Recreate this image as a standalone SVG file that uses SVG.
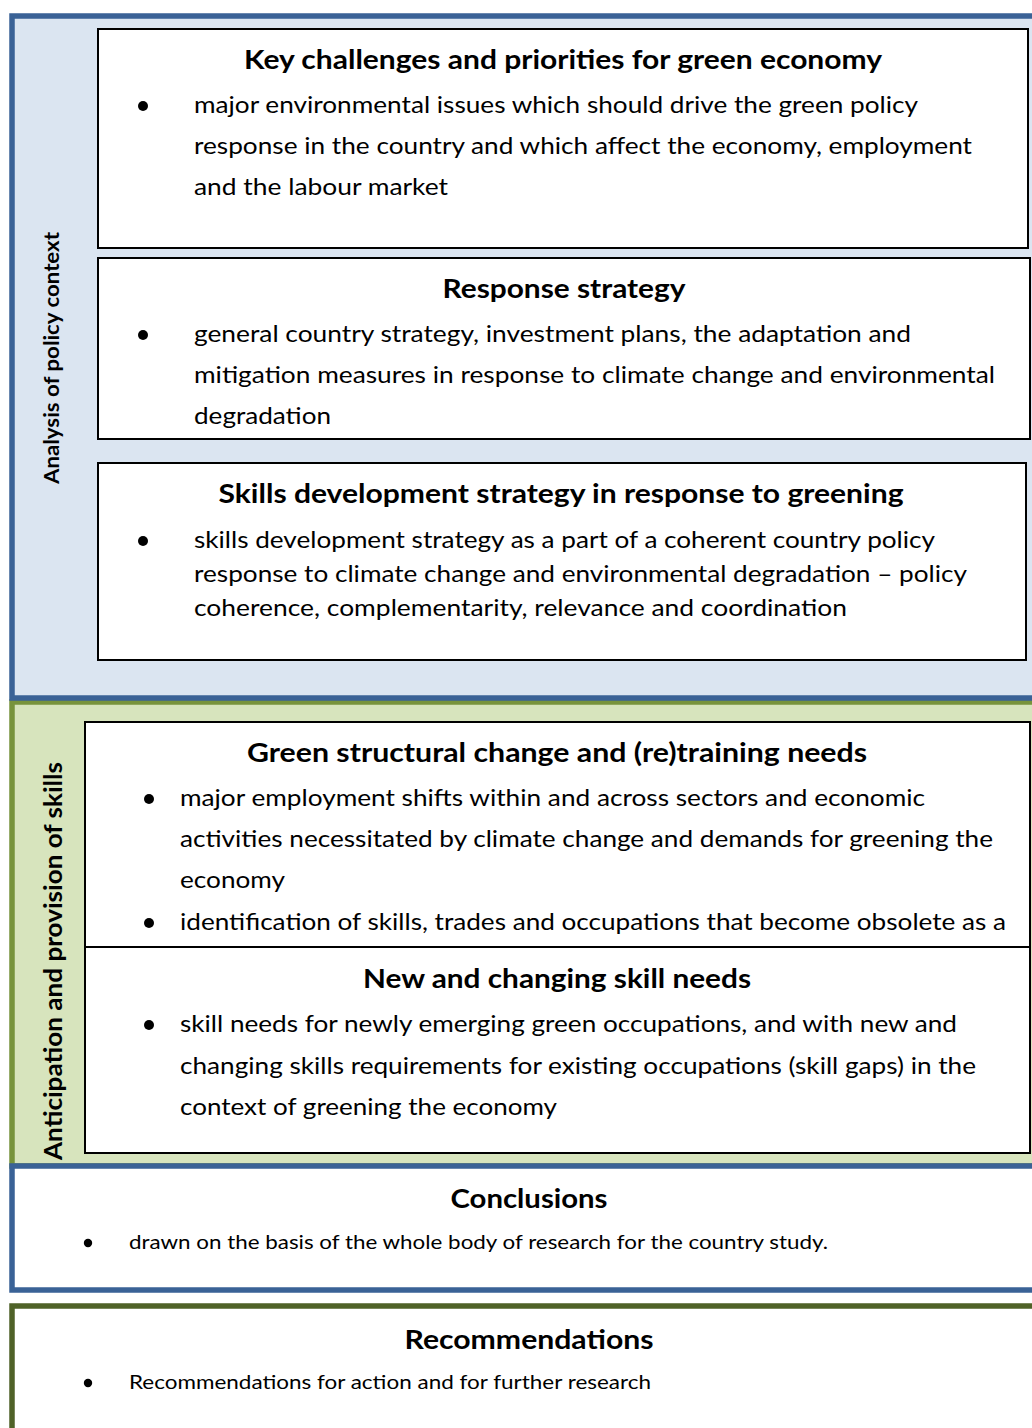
<svg xmlns="http://www.w3.org/2000/svg" width="1032" height="1428" viewBox="0 0 1032 1428">
<style>
  text { font-family: Lato, "Open Sans", sans-serif; fill: #000; }
  .ttl { font-size: 27px; font-weight: bold; text-anchor: middle; }
  .body { font-size: 24px; }
  .small { font-size: 20px; }
  .side { font-weight: bold; text-anchor: middle; }
  .box { fill: #fff; stroke: #000; stroke-width: 2; }
  .pblue { fill: #DBE5F1; stroke: #3A6296; stroke-width: 5.5; }
  .pgreen { fill: #D7E4BD; stroke: #77933C; stroke-width: 5.5; }
  .pconc { fill: #fff; stroke: #3A6296; stroke-width: 5.5; }
  .prec { fill: #fff; stroke: #4F6228; stroke-width: 5.5; }
</style>
<rect width="1032" height="1428" fill="#fff"/>

<g id="panel-anticipation">
  <rect class="pgreen" x="12" y="702" width="1040" height="464"/>
  <text class="side" font-size="24" transform="translate(62,961) rotate(-90)" textLength="398" lengthAdjust="spacingAndGlyphs">Anticipation and provision of skills</text>
</g>

<g id="panel-policy">
  <rect class="pblue" x="12" y="16" width="1040" height="682"/>
  <text class="side" font-size="20" transform="translate(59,358) rotate(-90)" textLength="252" lengthAdjust="spacingAndGlyphs">Analysis of policy context</text>
</g>

<g id="box-key-challenges">
  <rect class="box" x="98" y="29" width="930" height="219"/>
  <text class="ttl" x="563" y="69" textLength="638" lengthAdjust="spacingAndGlyphs">Key challenges and priorities for green economy</text>
  <circle cx="143" cy="106" r="5"/>
  <text class="body" x="194" y="113" textLength="724" lengthAdjust="spacingAndGlyphs">major environmental issues which should drive the green policy</text>
  <text class="body" x="194" y="154" textLength="778" lengthAdjust="spacingAndGlyphs">response in the country and which affect the economy, employment</text>
  <text class="body" x="194" y="195" textLength="254" lengthAdjust="spacingAndGlyphs">and the labour market</text>
</g>

<g id="box-response-strategy">
  <rect class="box" x="98" y="258" width="932" height="181"/>
  <text class="ttl" x="564" y="298" textLength="243" lengthAdjust="spacingAndGlyphs">Response strategy</text>
  <circle cx="143" cy="335" r="5"/>
  <text class="body" x="194" y="342" textLength="717" lengthAdjust="spacingAndGlyphs">general country strategy, investment plans, the adaptation and</text>
  <text class="body" x="194" y="383" textLength="801" lengthAdjust="spacingAndGlyphs">mitigation measures in response to climate change and environmental</text>
  <text class="body" x="194" y="424" textLength="137" lengthAdjust="spacingAndGlyphs">degradation</text>
</g>

<g id="box-skills-strategy">
  <rect class="box" x="98" y="463" width="928" height="197"/>
  <text class="ttl" x="561" y="503" textLength="685" lengthAdjust="spacingAndGlyphs">Skills development strategy in response to greening</text>
  <circle cx="143" cy="541" r="5"/>
  <text class="body" x="194" y="548" textLength="741" lengthAdjust="spacingAndGlyphs">skills development strategy as a part of a coherent country policy</text>
  <text class="body" x="194" y="582" textLength="773" lengthAdjust="spacingAndGlyphs">response to climate change and environmental degradation – policy</text>
  <text class="body" x="194" y="616" textLength="653" lengthAdjust="spacingAndGlyphs">coherence, complementarity, relevance and coordination</text>
</g>

<g id="box-structural-change">
  <rect class="box" x="85" y="722" width="945" height="225"/>
  <text class="ttl" x="557" y="762" textLength="620" lengthAdjust="spacingAndGlyphs">Green structural change and (re)training needs</text>
  <circle cx="149" cy="799" r="5"/>
  <text class="body" x="180" y="806" textLength="745" lengthAdjust="spacingAndGlyphs">major employment shifts within and across sectors and economic</text>
  <text class="body" x="180" y="847" textLength="813" lengthAdjust="spacingAndGlyphs">activities necessitated by climate change and demands for greening the</text>
  <text class="body" x="180" y="888" textLength="105" lengthAdjust="spacingAndGlyphs">economy</text>
  <circle cx="149" cy="923" r="5"/>
  <text class="body" x="180" y="930" textLength="826" lengthAdjust="spacingAndGlyphs">identification of skills, trades and occupations that become obsolete as a</text>
</g>

<g id="box-skill-needs">
  <rect class="box" x="85" y="947" width="945" height="206"/>
  <text class="ttl" x="557" y="988" textLength="388" lengthAdjust="spacingAndGlyphs">New and changing skill needs</text>
  <circle cx="149" cy="1025" r="5"/>
  <text class="body" x="180" y="1032" textLength="777" lengthAdjust="spacingAndGlyphs">skill needs for newly emerging green occupations, and with new and</text>
  <text class="body" x="180" y="1074" textLength="796" lengthAdjust="spacingAndGlyphs">changing skills requirements for existing occupations (skill gaps) in the</text>
  <text class="body" x="180" y="1115" textLength="377" lengthAdjust="spacingAndGlyphs">context of greening the economy</text>
</g>

<g id="panel-conclusions">
  <rect class="pconc" x="12" y="1166" width="1040" height="124"/>
  <text class="ttl" x="529" y="1208" textLength="157" lengthAdjust="spacingAndGlyphs">Conclusions</text>
  <circle cx="88" cy="1243" r="4.2"/>
  <text class="small" x="129" y="1249" textLength="699" lengthAdjust="spacingAndGlyphs">drawn on the basis of the whole body of research for the country study.</text>
</g>

<g id="panel-recommendations">
  <rect class="prec" x="12" y="1306" width="1040" height="140"/>
  <text class="ttl" x="529" y="1349" textLength="249" lengthAdjust="spacingAndGlyphs">Recommendations</text>
  <circle cx="88" cy="1383" r="4.2"/>
  <text class="small" x="129" y="1389" textLength="522" lengthAdjust="spacingAndGlyphs">Recommendations for action and for further research</text>
</g>

<g id="connectors"></g>
</svg>
